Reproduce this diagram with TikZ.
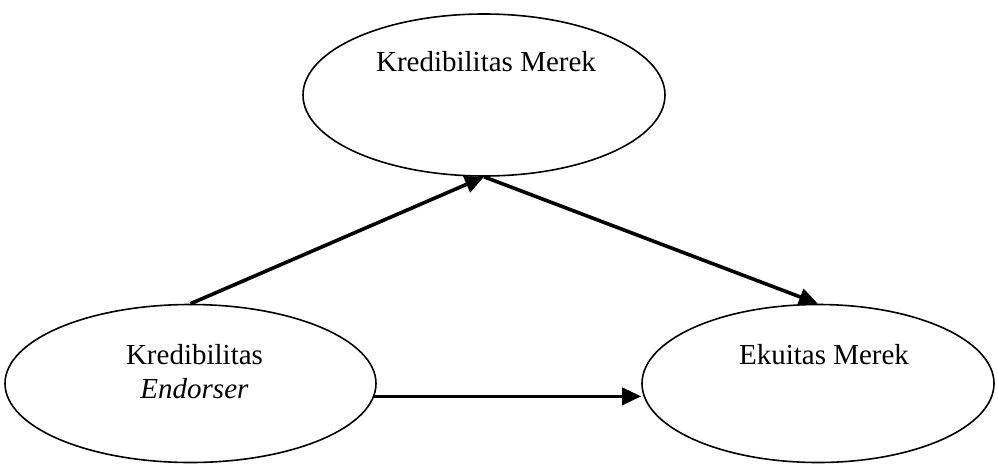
\documentclass[tikz,border=0pt]{standalone}
\usepackage{fontspec}
\setmainfont{Liberation Serif}
\usepackage{tikz}
\usetikzlibrary{shapes.geometric, arrows.meta, positioning, calc}

\begin{document}
\begin{tikzpicture}[x=1pt, y=-1pt, >={Triangle[length=19pt, width=17pt]},
        konstruk/.style={draw, ellipse, line width=1.6pt, inner sep=0pt},
        teks/.style={align=center, font=\fontsize{29}{34}\selectfont},
        panah/.style={->, line width=3.6pt}]
        \useasboundingbox (0,0) rectangle (998,464);
        % variabel
        \node[konstruk, minimum width=362pt, minimum height=162pt] (km) at (484,95) {};
        \node[konstruk, minimum width=371pt, minimum height=158pt] (ke) at (190.5,383.5) {};
        \node[konstruk, minimum width=352pt, minimum height=158pt] (em) at (818,383.5) {};
        \node[teks] at ($(km.center)+(2,-33)$) {Kredibilitas Merek};
        \node[teks] at ($(ke.center)+(4,-12)$) {Kredibilitas\\\textit{Endorser}};
        \node[teks] at ($(em.center)+(6,-29)$) {Ekuitas Merek};

        % hubungan
        \draw[panah] (ke.north) -- (km.south);
        \draw[panah] (km.south) -- (em.north);
        \draw[panah] (ke.-4) -- (ke.-4 -| em.west);
    \end{tikzpicture}
\end{document}
